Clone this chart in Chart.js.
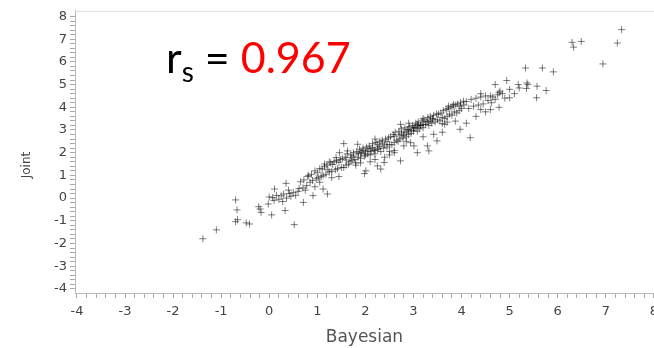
<!DOCTYPE html>
<html>
<head>
<meta charset="utf-8">
<script src="https://cdn.jsdelivr.net/npm/chart.js@4/dist/chart.umd.min.js"></script>
<style>
  html, body { margin: 0; padding: 0; background: #fff; overflow: hidden; }
  #wrap { position: absolute; left: 0; top: 0; width: 664px; height: 348px; }
  #rs {
    position: absolute; left: 166px; top: 35px;
    font-family: Lato, "Open Sans", sans-serif; font-size: 43px; line-height: 1;
    color: #000; white-space: nowrap;
  }
  #rs sub { font-size: 28px; vertical-align: -9px; }
  #rs .v { color: #ff0000; }
</style>
</head>
<body>
<div id="wrap"><canvas id="chart"></canvas></div>
<div id="rs">r<sub>s</sub> = <span class="v">0.967</span></div>
<script>
// Bayesian (x) and Joint (y) estimates
var bayesian = [
  -1.38, -1.10, -0.70, -0.67, -0.70, -0.66, -0.48, -0.41, -0.22, -0.19, -0.17, 0.05, 0.11, 0.35, 0.33, 0.52, -0.02, 0.71, 0.91, 1.21, 1.12,
  0.00, 0.07, 0.15, 0.20, 0.25, 0.30, 0.36, 0.42, 0.45, 0.50, 0.55, 0.60, 0.62, 0.28, 0.10, 0.40,
  0.65, 0.70, 0.72, 0.78, 0.80, 0.85, 0.88, 0.90, 0.95, 0.98, 1.00, 1.02, 1.05, 1.08, 1.10, 1.12, 1.15, 1.18, 1.20, 1.22, 1.25, 1.28, 1.30, 1.32, 1.35, 1.38, 1.40, 1.42, 1.45, 1.48, 1.50, 0.75, 0.95, 1.05, 1.30, 1.45, 0.82, 1.15, 1.25,
  1.52, 1.55, 1.58, 1.60, 1.62, 1.65, 1.68, 1.70, 1.72, 1.75, 1.78, 1.80, 1.82, 1.85, 1.88, 1.90, 1.92, 1.95, 1.98, 2.00, 2.02, 2.05, 2.08, 2.10, 2.12, 2.15, 2.18, 2.20, 2.22, 2.25, 2.28, 2.30, 2.32, 2.35, 2.38, 2.40, 2.42, 2.45, 2.48, 2.50,
  1.60, 1.75, 1.85, 1.95, 2.05, 2.15, 2.25, 2.35, 2.45, 1.70, 1.90, 2.10, 2.30, 2.00, 2.20,
  1.80, 2.01, 1.98, 2.25, 2.39, 2.32, 2.10, 2.40, 2.20, 1.90, 2.50, 2.60,
  1.55, 1.39, 1.46, 1.63, 1.84, 2.20,
  2.52, 2.55, 2.58, 2.60, 2.62, 2.65, 2.68, 2.70, 2.72, 2.75, 2.78, 2.80, 2.82, 2.85, 2.88, 2.90, 2.92, 2.95, 2.98, 3.00, 3.02, 3.05, 3.08, 3.10, 3.12, 3.15, 3.18, 3.20, 3.22, 3.25, 3.28, 3.30, 3.32, 3.35, 3.38, 3.40, 3.42, 3.45, 3.48, 3.50,
  2.60, 2.70, 2.80, 2.90, 3.00, 3.10, 3.20, 3.30, 3.40, 2.75, 2.95, 3.15, 3.35, 3.05, 2.85,
  2.73, 3.08, 2.90, 3.20,
  3.08, 3.32, 2.73, 2.94, 3.01, 3.29, 3.42, 3.49, 2.60, 2.80, 2.50, 3.20, 3.60, 2.85,
  3.52, 3.55, 3.57, 3.60, 3.62, 3.65, 3.68, 3.70, 3.72, 3.75, 3.78, 3.80, 3.82, 3.85, 3.88, 3.90, 3.92, 3.95, 3.98, 4.00, 4.05, 4.10, 4.15, 4.20, 4.25, 4.30, 4.35, 4.40, 4.45, 4.50,
  3.73, 3.83, 3.97, 4.04, 4.18, 3.97, 3.87, 3.60, 3.65, 3.70, 4.30, 4.10, 4.40,
  4.55, 4.60, 4.62, 4.65, 4.70, 4.70, 4.75, 4.78, 4.80, 4.78, 4.85, 4.90, 4.94, 5.00, 5.00, 5.18, 5.36, 5.38, 5.35, 5.57, 5.76, 5.56, 5.33, 5.68, 5.91, 5.10, 5.20, 4.60, 4.50, 4.40,
  6.30, 6.33, 6.49, 6.94, 7.24, 7.33
];
var joint = [
  -1.79, -1.40, -0.08, -0.52, -1.04, -0.95, -1.09, -1.14, -0.38, -0.48, -0.63, -0.74, 0.40, 0.65, -0.55, -1.17, -0.26, -0.19, 0.11, 0.18, 0.40,
  0.05, 0.02, 0.12, -0.05, 0.10, 0.18, 0.00, 0.20, 0.08, 0.25, 0.12, 0.30, 0.42, -0.15, -0.10, 0.35,
  0.72, 0.45, 0.80, 0.55, 0.95, 0.70, 1.05, 0.78, 1.20, 0.85, 1.12, 0.90, 1.30, 0.95, 1.28, 1.00, 1.38, 1.05, 1.45, 1.25, 1.15, 1.55, 1.18, 1.48, 1.60, 1.25, 1.65, 1.30, 1.58, 1.70, 1.35, 0.35, 0.50, 0.70, 0.90, 0.95, 1.00, 1.50, 1.60,
  1.75, 1.35, 1.80, 1.45, 1.95, 1.50, 1.60, 1.90, 1.65, 2.00, 1.70, 1.55, 2.05, 1.80, 2.15, 1.75, 2.00, 2.20, 1.85, 1.90, 2.25, 1.95, 2.30, 1.90, 2.05, 2.40, 2.10, 1.95, 2.45, 2.15, 2.20, 2.50, 2.05, 2.55, 2.20, 2.35, 2.60, 2.25, 2.65, 2.35,
  1.68, 1.85, 1.95, 2.10, 2.12, 2.22, 2.35, 2.42, 2.48, 1.78, 1.98, 2.18, 2.28, 2.05, 2.12,
  1.45, 1.20, 1.08, 1.42, 1.57, 1.28, 1.60, 1.80, 1.70, 1.55, 1.90, 2.00,
  2.40, 1.79, 2.00, 2.08, 2.37, 2.60,
  2.70, 2.35, 2.80, 2.45, 2.90, 2.55, 2.50, 2.95, 2.60, 3.05, 2.65, 2.75, 3.10, 2.70, 3.00, 2.80, 3.15, 2.85, 3.20, 2.95, 3.10, 3.30, 2.95, 3.35, 3.05, 3.20, 3.40, 3.10, 3.45, 3.25, 3.35, 3.55, 3.20, 3.60, 3.30, 3.50, 3.65, 3.35, 3.70, 3.45,
  2.72, 2.78, 2.88, 3.02, 3.08, 3.18, 3.25, 3.38, 3.48, 2.82, 2.98, 3.20, 3.40, 3.12, 2.92,
  3.25, 3.25, 3.30, 3.50,
  2.00, 2.08, 1.64, 2.44, 2.30, 2.30, 2.81, 2.52, 2.10, 2.30, 2.05, 2.70, 2.90, 2.50,
  3.70, 3.40, 3.75, 3.55, 3.85, 3.50, 3.90, 3.60, 3.95, 3.70, 4.00, 3.65, 4.05, 3.80, 4.10, 3.75, 4.15, 3.85, 4.20, 3.95, 4.10, 4.25, 3.95, 4.35, 4.05, 4.40, 4.10, 4.45, 4.15, 4.50,
  4.05, 4.13, 4.05, 4.27, 2.66, 3.03, 3.39, 3.28, 3.25, 3.35, 3.60, 3.30, 3.90,
  4.30, 4.50, 4.20, 4.45, 4.35, 5.00, 4.55, 4.64, 4.71, 4.00, 4.60, 4.40, 5.18, 4.42, 4.79, 5.00, 5.07, 5.00, 4.83, 4.93, 4.74, 4.42, 5.73, 5.73, 5.56, 4.60, 4.85, 3.90, 3.80, 4.60,
  6.86, 6.65, 6.90, 5.91, 6.83, 7.42
];
var xTickLabels = [-4, -3, -2, -1, 0, 1, 2, 3, 4, 5, 6, 7, 8];
var yTickLabels = [-4, -3, -2, -1, 0, 1, 2, 3, 4, 5, 6, 7, 8];

var points = bayesian.map(function (b, i) {
  return { x: b, y: joint[i] };
});

// minor ticks every 0.2 between the labelled whole numbers
function minorTicks(labels) {
  return function (scale) {
    var first = labels[0], last = labels[labels.length - 1];
    var t = [];
    for (var i = 0; i <= (last - first) * 5; i++) {
      t.push({ value: Math.round((first + i * 0.2) * 10) / 10 });
    }
    scale.ticks = t;
  };
}

function onlyWhole(list) {
  return function (value) {
    var r = Math.round(value);
    if (Math.abs(value - r) < 1e-6 && list.indexOf(r) !== -1) return String(r);
    return '';
  };
}

var frame = {
  id: 'frame',
  beforeDatasetsDraw: function (chart) {
    var a = chart.chartArea;
    var ctx = chart.ctx;
    ctx.save();
    ctx.strokeStyle = '#dddddd';
    ctx.lineWidth = 1;
    ctx.beginPath();
    ctx.moveTo(a.left, a.top + 0.5);
    ctx.lineTo(a.right, a.top + 0.5);
    ctx.stroke();
    ctx.restore();
  },
  afterDraw: function (chart) {
    var ctx = chart.ctx;
    ctx.save();
    ctx.translate(27, 165);
    ctx.rotate(-Math.PI / 2);
    ctx.fillStyle = '#444444';
    ctx.font = '12px "DejaVu Sans"';
    ctx.textAlign = 'center';
    ctx.textBaseline = 'middle';
    ctx.fillText('Joint', 0, 0);
    ctx.restore();
  }
};

var tickFont = { family: 'DejaVu Sans', size: 13 };

new Chart(document.getElementById('chart'), {
  type: 'scatter',
  data: {
    datasets: [{
      data: points,
      pointStyle: 'cross',
      radius: 3.5,
      borderWidth: 1,
      borderColor: 'rgba(0,0,0,0.5)',
      backgroundColor: 'rgba(0,0,0,0.5)'
    }]
  },
  options: {
    responsive: true,
    maintainAspectRatio: false,
    animation: false,
    events: [],
    layout: { padding: { top: 9, left: 0, right: 0, bottom: 0 } },
    plugins: { legend: { display: false }, tooltip: { enabled: false } },
    scales: {
      x: {
        type: 'linear',
        min: -4.04,
        max: 8,
        afterBuildTicks: minorTicks(xTickLabels),
        afterFit: function (scale) { scale.height = 55; },
        border: { color: '#bbbbbb' },
        grid: { drawOnChartArea: false, tickLength: 5, tickColor: '#aaaaaa' },
        ticks: {
          autoSkip: false,
          maxRotation: 0,
          padding: 6,
          color: '#444444',
          font: tickFont,
          callback: onlyWhole(xTickLabels)
        },
        title: {
          display: true,
          text: 'Bayesian',
          color: '#555555',
          font: { family: 'DejaVu Sans', size: 17 },
          padding: { top: 0, bottom: 0 }
        }
      },
      y: {
        type: 'linear',
        min: -4.18,
        max: 8.25,
        afterBuildTicks: minorTicks(yTickLabels),
        afterFit: function (scale) { scale.width = 75; },
        border: { color: '#bbbbbb' },
        grid: { drawOnChartArea: false, tickLength: 5, tickColor: '#aaaaaa' },
        ticks: {
          autoSkip: false,
          padding: 3,
          color: '#444444',
          font: tickFont,
          callback: onlyWhole(yTickLabels)
        }
      }
    }
  },
  plugins: [frame]
});
</script>
</body>
</html>
